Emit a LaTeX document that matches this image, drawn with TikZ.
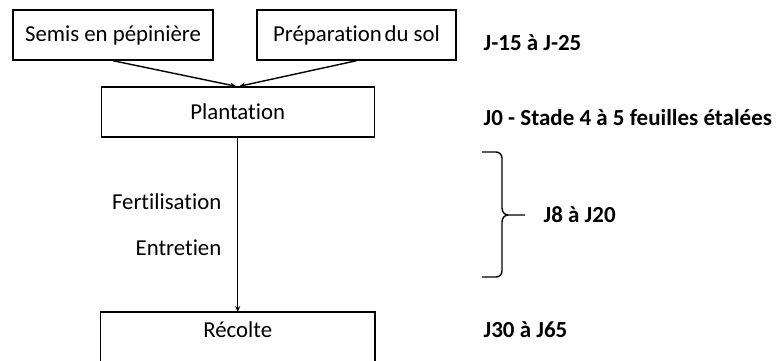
\documentclass[tikz,border=0pt]{standalone}
\usepackage{fontspec}
\setmainfont{Carlito}[Ligatures=NoCommon]
\usetikzlibrary{arrows.meta}
\begin{document}
\begin{tikzpicture}[x=1pt,y=-1pt,
  line width=1.4pt,
  every node/.style={font=\fontsize{22.8}{27}\selectfont, inner sep=0pt},
  boxnode/.style={draw, minimum height=50pt},
  lbl/.style={font=\fontsize{23}{27}\selectfont\bfseries, anchor=west},
  side/.style={anchor=east},
  arr/.style={-{Stealth[length=6pt,width=5pt]}}]
\useasboundingbox (0,0) rectangle (776,360);
\clip (0,0) rectangle (776,360);
\node[boxnode, minimum width=200pt] (semis) at (113,35) {Semis en pépinière};
\node[boxnode, minimum width=199pt] (prep) at (356.5,35) {Préparation\hspace{0.12em}du sol};
\node[boxnode, minimum width=273pt] (plant) at (237.7,112) {Plantation};
\node[minimum width=273pt, minimum height=34pt, anchor=north] (rec) at (237.7,312) {Récolte};
\draw (rec.south west) ++(0,40) -- (rec.north west) -- (rec.north east) -- ++(0,74);
\draw[arr] (semis.south) -- ([xshift=-1.5pt]plant.north);
\draw[arr] (prep.south) -- ([xshift=1.5pt]plant.north);
\draw[arr] (plant.south) -- (rec.north);
\node[side] (fert) at (222,202) {Fertilisation};
\node[side] (entr) at (222,248) {Entretien};
\node[lbl] (j15) at (483,43) {J-15 à J-25};
\node[lbl] (j0) at (483,118) {J0 - Stade 4 à 5 feuilles étalées};
\node[lbl] (j8) at (543,215) {J8 à J20};
\node[lbl] (j30) at (483,330) {J30 à J65};
\draw (482,152) -- (496,152) to[out=0,in=90] (502,158) -- (502,208) to[out=-90,in=180] (508,215) -- (525,215);
\draw (482,277) -- (496,277) to[out=0,in=-90] (502,271) -- (502,222) to[out=90,in=180] (508,215);
\end{tikzpicture}
\end{document}
